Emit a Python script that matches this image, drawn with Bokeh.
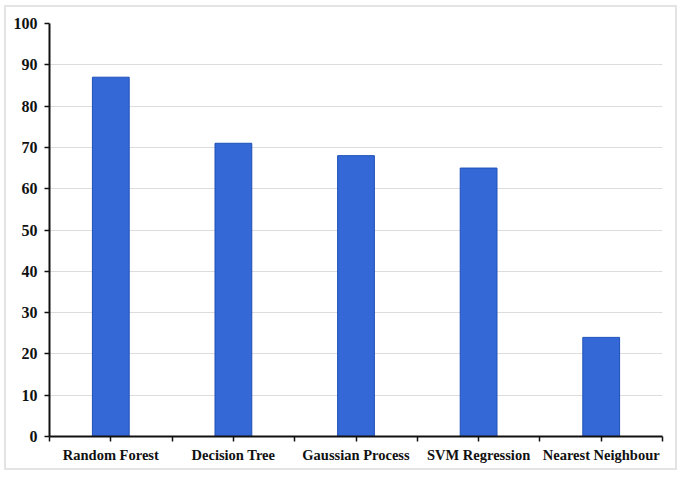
from bokeh.plotting import figure
from bokeh.models import FixedTicker, ColumnDataSource
from bokeh.embed import file_html
from bokeh.resources import INLINE

categories = ["Random Forest", "Decision Tree", "Gaussian Process", "SVM Regression", "Nearest Neighbour"]
values = [87, 71, 68, 65, 24]
y_ticks = [0, 10, 20, 30, 40, 50, 60, 70, 80, 90, 100]

xs = [i + 0.5 for i in range(len(categories))]
src = ColumnDataSource(dict(x=xs, top=values, name=categories))

p = figure(frame_width=613, frame_height=413, output_backend="svg", toolbar_location=None,
           x_range=(0, len(categories)), y_range=(0, 100),
           min_border_left=43, min_border_right=13, min_border_top=16, min_border_bottom=32)
p.styles = {"border": "2px solid #e4e4e4", "margin": "5px 0 0 4px"}

p.vbar(x="x", top="top", width=0.30, source=src, fill_color="#3468D6", line_color="#1E50B8", line_width=1)

tick_positions = [i * 0.5 for i in range(2 * len(categories) + 1)]
p.xaxis.ticker = FixedTicker(ticks=tick_positions)
overrides = {}
for t in tick_positions:
    overrides[t] = ""
for x, c in zip(xs, categories):
    overrides[x] = c
p.xaxis.major_label_overrides = overrides
p.yaxis.ticker = FixedTicker(ticks=y_ticks)

for ax in (p.xaxis[0], p.yaxis[0]):
    ax.axis_line_color = "#111111"
    ax.axis_line_width = 2
    ax.major_tick_line_color = "#111111"
    ax.major_tick_line_width = 1.5
    ax.major_tick_out = 5
    ax.major_tick_in = 0
    ax.minor_tick_line_color = None
    ax.major_label_text_font = "Liberation Serif"
    ax.major_label_text_font_style = "bold"
    ax.major_label_text_color = "#111111"
p.xaxis.major_label_text_font_size = "14.5px"
p.yaxis.major_label_text_font_size = "16px"
p.xaxis.major_label_standoff = 5
p.yaxis.major_label_standoff = 7

p.xgrid.grid_line_color = None
p.ygrid.grid_line_color = "#DCDCDC"
p.ygrid.grid_line_width = 1
p.outline_line_color = None

open("out.html", "w").write(file_html(p, INLINE))
